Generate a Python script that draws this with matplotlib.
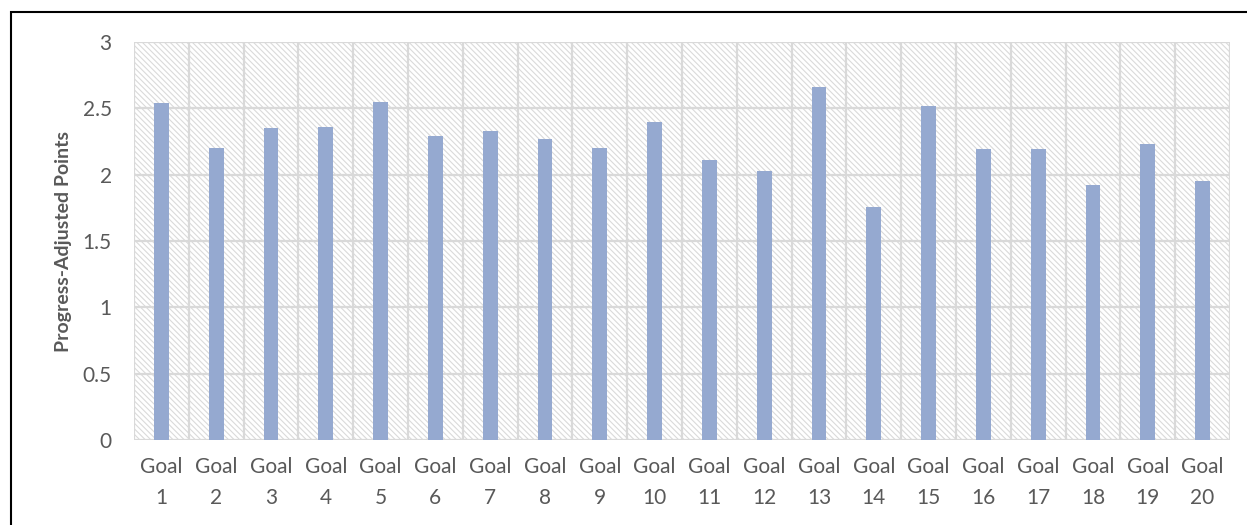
import matplotlib
matplotlib.use("Agg")
import matplotlib.pyplot as plt
from matplotlib.patches import Rectangle
import numpy as np

categories = [f"Goal\n{i}" for i in range(1, 21)]
values = [2.54, 2.20, 2.35, 2.36, 2.55, 2.29, 2.33, 2.27, 2.20, 2.40,
          2.11, 2.03, 2.66, 1.76, 2.52, 2.19, 2.19, 1.92, 2.23, 1.95]
yticks = [0, 0.5, 1, 1.5, 2, 2.5, 3]
ytick_labels = ["0", "0.5", "1", "1.5", "2", "2.5", "3"]

plt.rcParams['font.family'] = ['Lato', 'DejaVu Sans']
plt.rcParams['hatch.linewidth'] = 0.8

fig = plt.figure(figsize=(12.47, 5.25), dpi=100)
ax = fig.add_axes([134/1247, 1-440/525, (1230-134)/1247, (440-42)/525])

grid_c = '#d9d9d9'
n = len(categories)
x = np.arange(n)

# hatched background
bg = Rectangle((0, 0), 1, 1, transform=ax.transAxes, facecolor='white',
               edgecolor='#dadada', hatch='\\' * 6, lw=0, zorder=0)
ax.add_patch(bg)

ax.bar(x, values, width=0.27, color='#95a9d0', zorder=3)

ax.set_xlim(-0.5, n - 0.5)
ax.set_ylim(0, 3)
ax.set_yticks(yticks)
ax.set_yticklabels(ytick_labels)
ax.set_xticks(x)
ax.set_xticklabels(categories, linespacing=1.7)
ax.tick_params(axis='both', length=0, labelsize=15, colors='#595959')
ax.tick_params(axis='y', pad=16)
ax.tick_params(axis='x', pad=12)

for yv in yticks:
    ax.axhline(yv, color=grid_c, lw=1.6, zorder=1)
for xb in np.arange(-0.5, n, 1.0):
    ax.axvline(xb, color=grid_c, lw=1.6, zorder=1)

for s in ax.spines.values():
    s.set_visible(False)

ax.set_ylabel("Progress-Adjusted Points", fontsize=14, fontweight='bold',
              color='#595959', labelpad=8)

# outer frame
frame = Rectangle((11/1247, -0.05), 1.2, 1 - 12/525 + 0.05,
                  transform=fig.transFigure, fill=False, edgecolor='black',
                  lw=1.5, clip_on=False)
fig.patches.append(frame)

fig.savefig("out.png", dpi=100)
